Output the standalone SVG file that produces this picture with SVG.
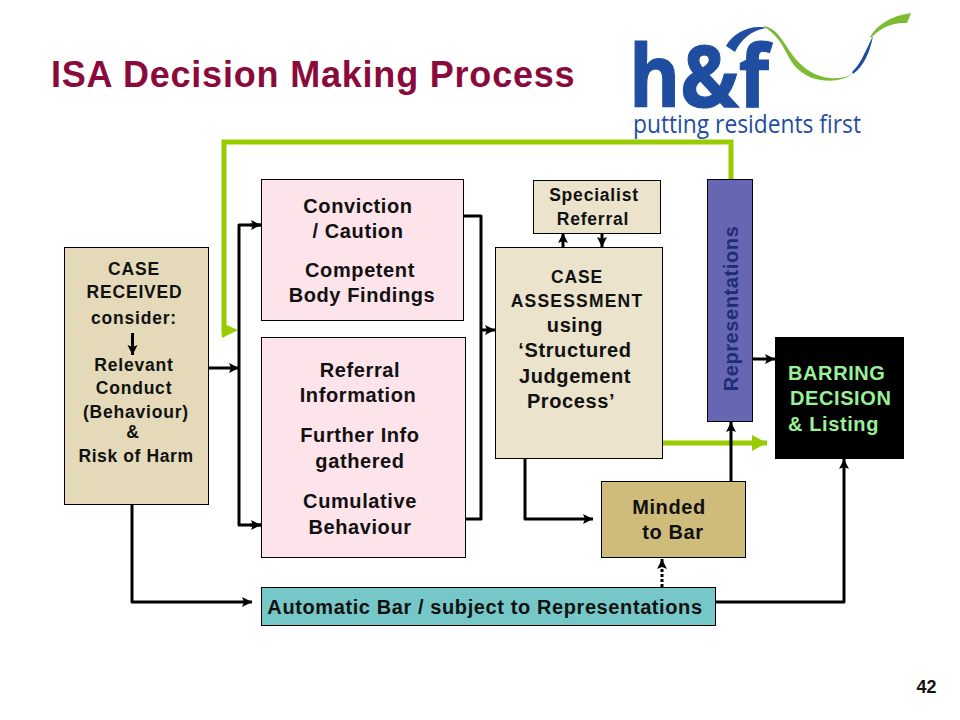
<svg xmlns="http://www.w3.org/2000/svg" width="960" height="720" viewBox="0 0 960 720">
<style>
text{font-family:"Liberation Sans",Arial,sans-serif;font-weight:700;fill:#111;text-anchor:middle}
.box{stroke:#000;stroke-width:1}
.l{font-size:20px;letter-spacing:.6px}.s{font-size:17.5px;letter-spacing:.8px}
.c{fill:none;stroke:#000;stroke-width:3;stroke-linejoin:round}
.g{fill:none;stroke:#99cc00;stroke-width:5}
</style>
<defs>
<marker id="a" markerUnits="userSpaceOnUse" markerWidth="12" markerHeight="12" refX="10" refY="6" orient="auto"><path d="M0 1L10 6L0 11L2 6Z" fill="#000"/></marker>
<marker id="ag" markerUnits="userSpaceOnUse" markerWidth="16" markerHeight="16" refX="15" refY="8" orient="auto"><path d="M0 0L15 8L0 16Z" fill="#99cc00"/></marker>
</defs>
<rect width="960" height="720" fill="#fff"/>
<text x="51" y="87" style="font-size:36px;letter-spacing:.8px;text-anchor:start;fill:#8b0a3c">ISA Decision Making Process</text>
<g id="logo">
<text x="629" y="107" textLength="140" lengthAdjust="spacingAndGlyphs" style="font-family:'Open Sans',sans-serif;font-size:86px;font-weight:700;text-anchor:start;fill:#1f4ea1;stroke:#1f4ea1;stroke-width:1.2px">h&amp;f</text>
<text x="633" y="133" textLength="228" lengthAdjust="spacingAndGlyphs" style="font-family:'Open Sans',sans-serif;font-size:26px;font-weight:400;text-anchor:start;fill:#1f4ea1">putting residents first</text>
<path d="M726 46C733 33 750 24 768 28C755 29 742 37 735 52Z" fill="#1f4ea1"/>
<path d="M763 26C775 27 781 38 787 47C797 63 810 76 830 78C838 79 845 78 852 74C842 82 825 82 812 78C797 72 791 62 786 52C780 40 773 32 763 26Z" fill="#7dbb35"/>
<path d="M852 72C860 65 865 52 873 36C870 52 864 66 853 74Z" fill="#1f4ea1"/>
<path d="M870 37C877 25 890 16 911 13L907 23C893 22 881 27 871 38Z" fill="#7dbb35"/>
</g>
<g id="connectors">
<path class="g" d="M731 180V142H224V335"/>
<path d="M222 323L238 330L222 338Z" fill="#99cc00"/>
<path class="g" d="M662 443H767" marker-end="url(#ag)"/>
<path class="c" d="M209 368H239" marker-end="url(#a)"/>
<path class="c" d="M261 225H239V525H261"/>
<path class="c" d="M250 225H261" marker-end="url(#a)"/>
<path class="c" d="M250 525H261" marker-end="url(#a)"/>
<path class="c" d="M458 216H481V519H466"/>
<path class="c" d="M481 330H495" marker-end="url(#a)"/>
<path class="c" d="M563 247V233" marker-end="url(#a)"/>
<path class="c" d="M602 233V247" marker-end="url(#a)"/>
<path class="c" d="M731 481V422" marker-end="url(#a)"/>
<path class="c" d="M752 359H775" marker-end="url(#a)"/>
<path class="c" d="M525 458V519H593" marker-end="url(#a)"/>
<path class="c" d="M662 587V559" stroke-dasharray="3 2" marker-end="url(#a)"/>
<path class="c" d="M716 602H844V459" marker-end="url(#a)"/>
<path class="c" d="M132 504V602H252" marker-end="url(#a)"/>
</g>
<g id="case-received">
<rect class="box" x="64.500" y="247.500" width="144" height="257" fill="#e4d9b9"/>
<g class="s">
<text x="134" y="275">CASE</text>
<text x="134.500" y="298">RECEIVED</text>
<text x="134" y="324">consider:</text>
<text x="134" y="371">Relevant</text>
<text x="134" y="394">Conduct</text>
<text x="136" y="418">(Behaviour)</text>
<text x="133" y="438">&amp;</text>
<text x="136" y="462" style="letter-spacing:.6px">Risk of Harm</text>
</g>
<path d="M132.500 333V355" class="c" marker-end="url(#a)"/>
</g>
<g id="conviction">
<rect class="box" x="261.500" y="179.500" width="202" height="141" fill="#fde3ea"/>
<g class="l">
<text x="358" y="213">Conviction</text>
<text x="358" y="238">/ Caution</text>
<text x="360" y="277">Competent</text>
<text x="362" y="302">Body Findings</text>
</g>
</g>
<g id="referral-information">
<rect class="box" x="261.500" y="337.500" width="204" height="220" fill="#fde3ea"/>
<g class="l">
<text x="360" y="377">Referral</text>
<text x="358" y="402">Information</text>
<text x="360" y="442">Further Info</text>
<text x="360" y="468">gathered</text>
<text x="360" y="508">Cumulative</text>
<text x="360" y="534">Behaviour</text>
</g>
</g>
<g id="specialist-referral">
<rect class="box" x="533.500" y="180.500" width="127" height="53" fill="#ebe3cb"/>
<g class="s">
<text x="594" y="201">Specialist</text>
<text x="593" y="225">Referral</text>
</g>
</g>
<g id="case-assessment">
<rect class="box" x="495.500" y="247.500" width="167" height="211" fill="#ebe3cb"/>
<text class="s" x="577" y="283">CASE</text>
<text class="s" x="577" y="307" style="letter-spacing:1.2px">ASSESSMENT</text>
<g class="l">
<text x="575" y="332">using</text>
<text x="575" y="357">‘Structured</text>
<text x="575" y="383">Judgement</text>
<text x="571" y="408">Process’</text>
</g>
</g>
<g id="representations">
<rect class="box" x="707.500" y="179.500" width="45" height="242" fill="#6666b3"/>
<text class="l" transform="translate(738 308.500) rotate(-90)" style="fill:#1f2d78">Representations</text>
</g>
<g id="barring-decision">
<rect x="775" y="337" width="129" height="122" fill="#000"/>
<g class="l">
<text x="788" y="380" style="text-anchor:start;fill:#99f099">BARRING</text>
<text x="790" y="405" style="text-anchor:start;fill:#99f099">DECISION</text>
<text x="788" y="431" style="text-anchor:start;fill:#99f099">&amp; Listing</text>
</g>
</g>
<g id="minded-to-bar">
<rect class="box" x="601.500" y="481.500" width="144" height="76" fill="#cfbc7b"/>
<g class="l">
<text x="669" y="514">Minded</text>
<text x="673" y="539">to Bar</text>
</g>
</g>
<g id="automatic-bar">
<rect class="box" x="261.500" y="587.500" width="454" height="38" fill="#76c8c8"/>
<text class="l" x="485" y="614">Automatic Bar / subject to Representations</text>
</g>
<text x="926.500" y="693" style="font-size:18px">42</text>
</svg>
